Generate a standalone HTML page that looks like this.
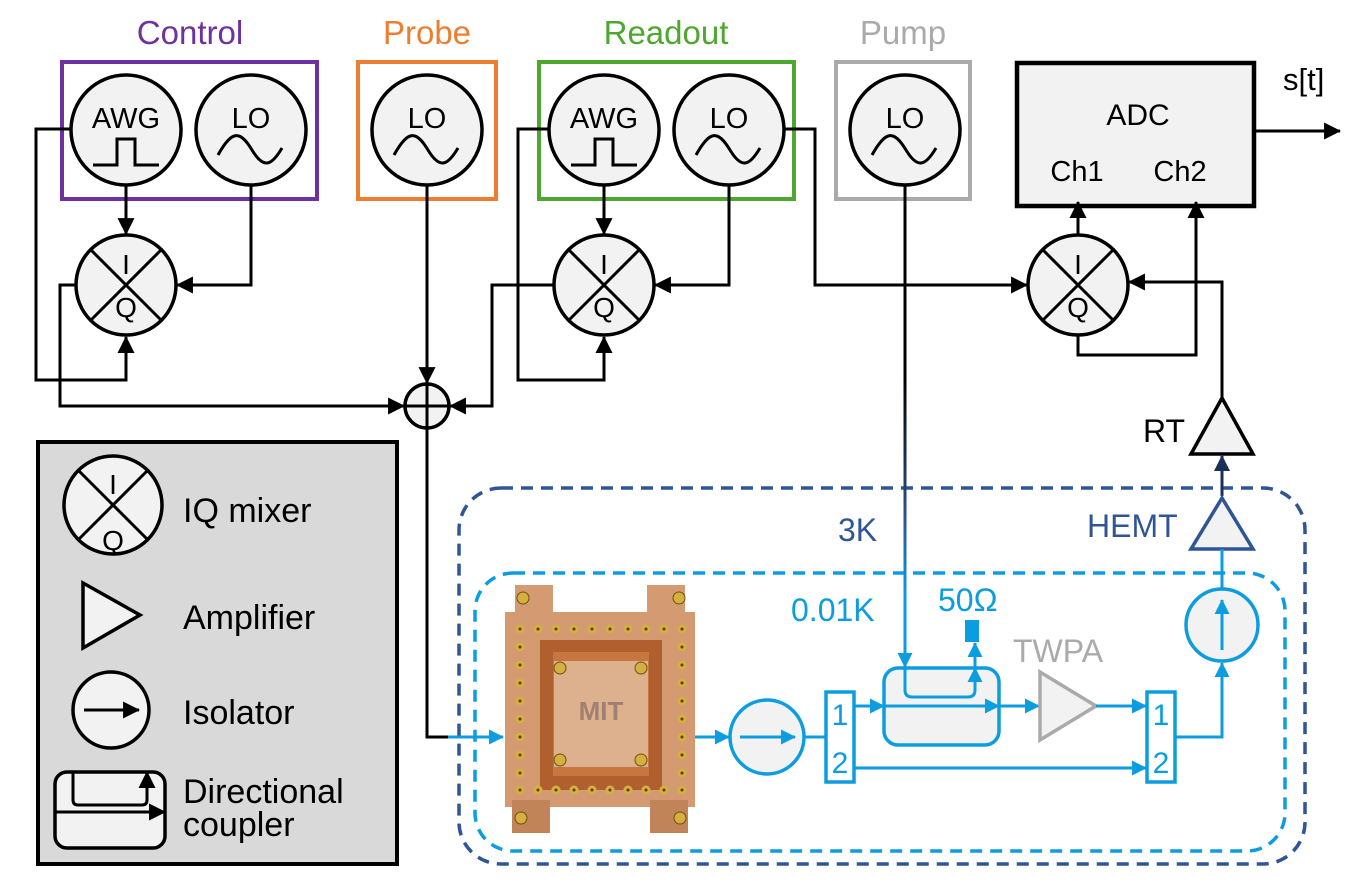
<!DOCTYPE html>
<html><head><meta charset="utf-8"><style>
html,body{margin:0;padding:0;background:#fff}
svg{display:block}
text{font-family:"Liberation Sans",sans-serif}
</style></head><body>
<svg width="1356" height="893" viewBox="0 0 1356 893" xmlns="http://www.w3.org/2000/svg">
<defs>
<marker id="ab" markerWidth="17" markerHeight="17" refX="7.5" refY="4" orient="auto" markerUnits="userSpaceOnUse" viewBox="0 0 8 8"><path d="M0,0 L8,4 L0,8z" fill="#000"/></marker>
<marker id="abl" markerWidth="15" markerHeight="15" refX="7.5" refY="4" orient="auto" markerUnits="userSpaceOnUse" viewBox="0 0 8 8"><path d="M0,0 L8,4 L0,8z" fill="#0b9de0"/></marker>
<marker id="ad" markerWidth="16" markerHeight="16" refX="7.5" refY="4" orient="auto" markerUnits="userSpaceOnUse" viewBox="0 0 8 8"><path d="M0,0 L8,4 L0,8z" fill="#1a2f5a"/></marker>
<linearGradient id="gp" x1="0" y1="186" x2="0" y2="668" gradientUnits="userSpaceOnUse"><stop offset="0.4" stop-color="#000"/><stop offset="0.7" stop-color="#2f5597"/><stop offset="0.85" stop-color="#0b9de0"/></linearGradient>
</defs>
<style>
.k{stroke:#000;stroke-width:3;fill:none}
.b{stroke:#0b9de0;stroke-width:3;fill:none}
.c{fill:#f2f2f2;stroke:#000;stroke-width:3.5}
.cb{fill:#f2f2f2;stroke:#0b9de0;stroke-width:3.5}
</style>

<text x="190" y="44" font-size="33" fill="#7030a0" text-anchor="middle">Control</text>
<text x="427" y="44" font-size="33" fill="#ed7d31" text-anchor="middle">Probe</text>
<text x="666" y="44" font-size="33" fill="#4ea72e" text-anchor="middle">Readout</text>
<text x="903" y="44" font-size="33" fill="#aaaaaa" text-anchor="middle">Pump</text>

<rect x="62" y="62" width="255" height="137" fill="none" stroke="#7030a0" stroke-width="4"/>
<rect x="358" y="62" width="138" height="137" fill="none" stroke="#ed7d31" stroke-width="4"/>
<rect x="539" y="62" width="255" height="137" fill="none" stroke="#4ea72e" stroke-width="4"/>
<rect x="836" y="62" width="134" height="137" fill="none" stroke="#aaaaaa" stroke-width="4"/>

<rect x="459" y="488" width="846" height="376" rx="42" fill="none" stroke="#2f5597" stroke-width="3.5" stroke-dasharray="12,8"/>
<rect x="475" y="573" width="810" height="278" rx="38" fill="none" stroke="#0b9de0" stroke-width="3.5" stroke-dasharray="12,8"/>

<polyline class="k" points="70,129 36,129 36,380 126,380 126,337" marker-end="url(#ab)"/>
<polyline class="k" points="76,285 60,285 60,406 404,406" marker-end="url(#ab)"/>
<polyline class="k" points="251,186 251,285 177,285" marker-end="url(#ab)"/>
<line class="k" x1="126" y1="186" x2="126" y2="234" marker-end="url(#ab)"/>
<line class="k" x1="427" y1="186" x2="427" y2="383" marker-end="url(#ab)"/>
<polyline class="k" points="548,129 518,129 518,380 604,380 604,337" marker-end="url(#ab)"/>
<polyline class="k" points="554,285 492,285 492,406 450,406" marker-end="url(#ab)"/>
<polyline class="k" points="729,186 729,285 655,285" marker-end="url(#ab)"/>
<line class="k" x1="604" y1="186" x2="604" y2="234" marker-end="url(#ab)"/>
<polyline class="k" points="785,129 815,129 815,285 1027,285" marker-end="url(#ab)"/>
<line x1="905" y1="186" x2="905" y2="667" stroke="url(#gp)" stroke-width="3" marker-end="url(#abl)"/>
<polyline points="427,428 427,737 450,737" fill="none" stroke="#000" stroke-width="3"/>
<line x1="448" y1="737" x2="503" y2="737" stroke="#0b9de0" stroke-width="3" marker-end="url(#abl)"/>

<rect x="1017" y="63" width="237" height="143" fill="#f2f2f2" stroke="#000" stroke-width="4.5"/>
<text x="1138" y="125" font-size="30" text-anchor="middle">ADC</text>
<text x="1077" y="181" font-size="29" text-anchor="middle">Ch1</text>
<text x="1180" y="181" font-size="29" text-anchor="middle">Ch2</text>
<line class="k" x1="1256" y1="131" x2="1340" y2="131" marker-end="url(#ab)"/>
<text x="1283" y="90" font-size="31">s[t]</text>
<line class="k" x1="1078" y1="235" x2="1078" y2="202" marker-end="url(#ab)"/>
<polyline class="k" points="1078,335 1078,355 1196,355 1196,202" marker-end="url(#ab)"/>
<polyline class="k" points="1222,400 1222,282 1129,282" marker-end="url(#ab)"/>

<g>
<circle class="c" cx="126" cy="130" r="55"/><text x="126" y="128" font-size="29" text-anchor="middle">AWG</text>
<polyline class="k" points="93,165 117,165 117,139 135,139 135,165 159,165"/>
<circle class="c" cx="251" cy="130" r="55"/><text x="251" y="128" font-size="29" text-anchor="middle">LO</text>
<path class="k" d="M218,155 C232,130 240,130 252,150 C264,170 272,165 282,148"/>
<circle class="c" cx="427" cy="130" r="55"/><text x="427" y="128" font-size="29" text-anchor="middle">LO</text>
<path class="k" d="M394,155 C408,130 416,130 428,150 C440,170 448,165 458,148"/>
<circle class="c" cx="604" cy="130" r="55"/><text x="604" y="128" font-size="29" text-anchor="middle">AWG</text>
<polyline class="k" points="571,165 595,165 595,139 613,139 613,165 637,165"/>
<circle class="c" cx="729" cy="130" r="55"/><text x="729" y="128" font-size="29" text-anchor="middle">LO</text>
<path class="k" d="M696,155 C710,130 718,130 730,150 C742,170 750,165 760,148"/>
<circle class="c" cx="905" cy="130" r="55"/><text x="905" y="128" font-size="29" text-anchor="middle">LO</text>
<path class="k" d="M872,155 C886,130 894,130 906,150 C918,170 926,165 936,148"/>
</g>

<g id="mx">
<circle class="c" cx="126" cy="285" r="50"/>
<line class="k" x1="91" y1="250" x2="161" y2="320"/><line class="k" x1="161" y1="250" x2="91" y2="320"/>
<text x="126" y="274" font-size="28" text-anchor="middle">I</text><text x="126" y="317" font-size="28" text-anchor="middle">Q</text>
</g>
<use href="#mx" x="478"/>
<use href="#mx" x="952"/>

<circle class="c" cx="427" cy="406" r="22"/>
<line class="k" x1="405" y1="406" x2="449" y2="406"/><line class="k" x1="427" y1="384" x2="427" y2="428"/>

<polygon points="1222,398 1253,454 1191,454" fill="#f2f2f2" stroke="#000" stroke-width="3.5"/>
<text x="1143" y="442" font-size="32">RT</text>
<line x1="1222" y1="496" x2="1222" y2="456" stroke="#1a2f5a" stroke-width="3" marker-end="url(#ad)"/>
<polygon points="1222,498 1253,549 1191,549" fill="#f2f2f2" stroke="#2f5597" stroke-width="3.5"/>
<text x="1087" y="537" font-size="32" fill="#2f5597">HEMT</text>
<text x="838" y="541" font-size="32" fill="#2f5597">3K</text>
<text x="791" y="621" font-size="32" fill="#0b9de0">0.01K</text>
<text x="938" y="611" font-size="32" fill="#0b9de0">50Ω</text>
<text x="1013" y="662" font-size="32" fill="#aaaaaa">TWPA</text>

<line class="b" x1="1222" y1="588" x2="1222" y2="549"/>
<circle class="cb" cx="1222" cy="625" r="36"/>
<line class="b" x1="1222" y1="650" x2="1222" y2="600" marker-end="url(#abl)"/>
<polyline class="b" points="1175,737 1222,737 1222,663" marker-end="url(#abl)"/>

<g>
<rect x="505" y="612" width="190" height="195" fill="#d49a72"/>
<rect x="515" y="585" width="38" height="35" fill="#d49a72"/>
<rect x="647" y="585" width="38" height="35" fill="#d49a72"/>
<rect x="512" y="800" width="38" height="33" fill="#c08458"/>
<rect x="650" y="800" width="38" height="33" fill="#c08458"/>
<rect x="540" y="640" width="122" height="150" fill="#b0602e"/>
<rect x="553" y="652" width="96" height="124" fill="#c87640"/>
<rect x="554" y="661" width="94" height="106" fill="#ddb08e"/>
<text x="601" y="720" font-size="26" fill="#a08070" text-anchor="middle" font-weight="bold">MIT</text>
<g fill="#d4b040" stroke="#6e5010" stroke-width="1">
<circle cx="560" cy="668" r="6"/><circle cx="641" cy="668" r="6"/><circle cx="560" cy="760" r="6"/><circle cx="641" cy="760" r="6"/>
<circle cx="523" cy="598" r="6"/><circle cx="679" cy="598" r="6"/><circle cx="521" cy="818" r="6"/><circle cx="680" cy="818" r="6"/>
</g>
<g fill="#5a3a10" stroke="#d4b040" stroke-width="3">
<circle cx="520" cy="629" r="3"/><circle cx="538" cy="629" r="3"/><circle cx="556" cy="629" r="3"/><circle cx="574" cy="629" r="3"/><circle cx="592" cy="629" r="3"/><circle cx="610" cy="629" r="3"/><circle cx="628" cy="629" r="3"/><circle cx="646" cy="629" r="3"/><circle cx="664" cy="629" r="3"/><circle cx="682" cy="629" r="3"/>
<circle cx="520" cy="790" r="3"/><circle cx="538" cy="790" r="3"/><circle cx="556" cy="790" r="3"/><circle cx="574" cy="790" r="3"/><circle cx="592" cy="790" r="3"/><circle cx="610" cy="790" r="3"/><circle cx="628" cy="790" r="3"/><circle cx="646" cy="790" r="3"/><circle cx="664" cy="790" r="3"/><circle cx="682" cy="790" r="3"/>
<circle cx="520" cy="647" r="3"/><circle cx="520" cy="665" r="3"/><circle cx="520" cy="683" r="3"/><circle cx="520" cy="701" r="3"/><circle cx="520" cy="719" r="3"/><circle cx="520" cy="737" r="3"/><circle cx="520" cy="755" r="3"/><circle cx="520" cy="773" r="3"/>
<circle cx="682" cy="647" r="3"/><circle cx="682" cy="665" r="3"/><circle cx="682" cy="683" r="3"/><circle cx="682" cy="701" r="3"/><circle cx="682" cy="719" r="3"/><circle cx="682" cy="737" r="3"/><circle cx="682" cy="755" r="3"/><circle cx="682" cy="773" r="3"/>
</g>
</g>

<line class="b" x1="695" y1="737" x2="729" y2="737" marker-end="url(#abl)"/>
<circle class="cb" cx="767" cy="737" r="37"/>
<line class="b" x1="740" y1="737" x2="795" y2="737" marker-end="url(#abl)"/>
<line class="b" x1="804" y1="737" x2="826" y2="737"/>

<rect x="826" y="692" width="28" height="90" fill="#fff" stroke="#0b9de0" stroke-width="3.5"/>
<text x="840" y="725" font-size="30" fill="#0b9de0" text-anchor="middle">1</text>
<text x="840" y="773" font-size="30" fill="#0b9de0" text-anchor="middle">2</text>
<rect x="884" y="668" width="115" height="77" rx="14" fill="#f2f2f2" stroke="#0b9de0" stroke-width="3.5"/>
<line class="b" x1="854" y1="706" x2="884" y2="706" marker-end="url(#abl)"/>
<line class="b" x1="884" y1="706" x2="999" y2="706" marker-end="url(#abl)"/>
<path class="b" d="M905,668 L905,690 Q905,697 912,697 L968,697 Q975,697 975,690 L975,672"/>
<line class="b" x1="975" y1="690" x2="975" y2="668" marker-end="url(#abl)"/>
<line class="b" x1="975" y1="668" x2="975" y2="643" marker-end="url(#abl)"/>
<rect x="965" y="620" width="14" height="22" fill="#0b9de0"/>
<line class="b" x1="999" y1="706" x2="1039" y2="706" marker-end="url(#abl)"/>
<polygon points="1040,672 1096,706 1040,740" fill="#f2f2f2" stroke="#aaaaaa" stroke-width="3.5"/>
<line class="b" x1="1096" y1="706" x2="1146" y2="706" marker-end="url(#abl)"/>
<line class="b" x1="854" y1="768" x2="1146" y2="768" marker-end="url(#abl)"/>
<rect x="1147" y="692" width="28" height="90" fill="#fff" stroke="#0b9de0" stroke-width="3.5"/>
<text x="1161" y="725" font-size="30" fill="#0b9de0" text-anchor="middle">1</text>
<text x="1161" y="773" font-size="30" fill="#0b9de0" text-anchor="middle">2</text>

<rect x="38" y="442" width="359" height="422" fill="#d9d9d9" stroke="#000" stroke-width="4"/>
<circle class="c" cx="113" cy="505" r="49"/>
<line class="k" x1="78" y1="470" x2="148" y2="540"/><line class="k" x1="148" y1="470" x2="78" y2="540"/>
<text x="113" y="494" font-size="28" text-anchor="middle">I</text><text x="113" y="550" font-size="28" text-anchor="middle">Q</text>
<text x="183" y="522" font-size="34">IQ mixer</text>
<polygon points="83,583 140,615 83,648" fill="#f2f2f2" stroke="#000" stroke-width="3.5"/>
<text x="183" y="629" font-size="34">Amplifier</text>
<circle class="c" cx="111" cy="710" r="38"/>
<line class="k" x1="84" y1="710" x2="139" y2="710" marker-end="url(#ab)"/>
<text x="183" y="724" font-size="34">Isolator</text>
<rect x="55" y="772" width="110" height="76" rx="12" fill="#f2f2f2" stroke="#000" stroke-width="3.5"/>
<path class="k" d="M73,772 L73,800 Q73,805 78,805 L142,805 Q147,805 147,800 L147,790"/>
<line class="k" x1="147" y1="793" x2="147" y2="772" marker-end="url(#ab)"/>
<line class="k" x1="55" y1="812" x2="165" y2="812" marker-end="url(#ab)"/>
<text x="183" y="803" font-size="34">Directional</text>
<text x="183" y="836" font-size="34">coupler</text>
</svg>
</body></html>
